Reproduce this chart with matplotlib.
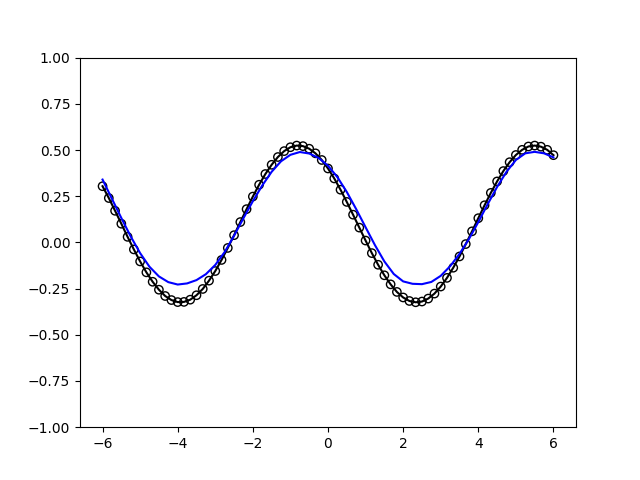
import numpy as np
import matplotlib
matplotlib.use("Agg")
import matplotlib.pyplot as plt

# Observed samples (black circles), x step 1/6 from -6 to 6
x_obs = np.linspace(-6, 6, 73)
y_obs = [0.304, 0.240, 0.171, 0.101, 0.030, -0.038, -0.103, -0.162, -0.213, -0.256,
         -0.290, -0.312, -0.323, -0.322, -0.310, -0.286, -0.252, -0.207, -0.155, -0.095,
         -0.030, 0.039, 0.110, 0.180, 0.248, 0.312, 0.370, 0.420, 0.462, 0.494,
         0.515, 0.524, 0.521, 0.507, 0.482, 0.446, 0.400, 0.346, 0.285, 0.219,
         0.150, 0.080, 0.010, -0.058, -0.121, -0.178, -0.227, -0.268, -0.298, -0.317,
         -0.324, -0.320, -0.304, -0.277, -0.239, -0.192, -0.137, -0.076, -0.009, 0.060,
         0.131, 0.201, 0.268, 0.330, 0.386, 0.434, 0.473, 0.501, 0.519, 0.524,
         0.518, 0.501, 0.472]

# Fitted curve (blue), x step 0.25 from -6 to 6
x_fit = np.linspace(-6, 6, 49)
y_fit = [0.340, 0.236, 0.132, 0.032, -0.058, -0.132, -0.184, -0.215, -0.228,
         -0.222, -0.204, -0.172, -0.122, -0.052, 0.036, 0.131, 0.223, 0.308,
         0.382, 0.439, 0.474, 0.489, 0.481, 0.457, 0.415, 0.353, 0.273, 0.180,
         0.082, -0.015, -0.103, -0.171, -0.211, -0.224, -0.226, -0.214, -0.181,
         -0.129, -0.062, 0.018, 0.110, 0.207, 0.300, 0.382, 0.446, 0.482, 0.490,
         0.482, 0.460]

fig, ax = plt.subplots(figsize=(6.4, 4.8), dpi=100)
ax.plot(x_obs, y_obs, 'k-')
ax.scatter(x_obs, y_obs, facecolors='none', edgecolors='k')
ax.plot(x_fit, y_fit, 'b-')
ax.set_ylim(-1, 1)
fig.savefig("out.png")
